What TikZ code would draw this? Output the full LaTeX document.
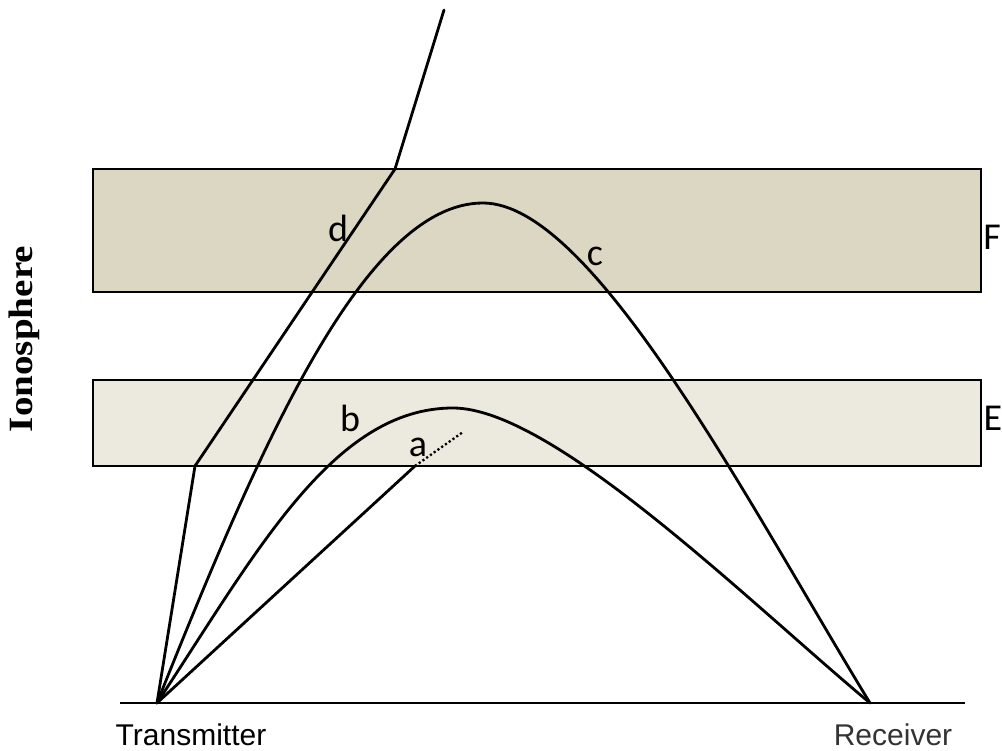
\documentclass[tikz,border=0pt]{standalone}
\usepackage{fontspec}
\setmainfont{Liberation Sans}
\newfontfamily\labfont{Carlito}
\newfontfamily\serffont{Liberation Serif}
\definecolor{Fcol}{HTML}{DCD7C2}
\definecolor{Ecol}{HTML}{ECE9DF}
\begin{document}
\begin{tikzpicture}[x=1pt,y=-1pt,
  ray/.style={line width=2.8pt, line join=round, line cap=round},
  layer/.style={draw=black, line width=2pt},
  lab/.style={font=\labfont\fontsize{38}{38}\selectfont, inner sep=0pt},
  place/.style={font=\fontsize{30}{30}\selectfont, inner sep=0pt}]
\useasboundingbox (0,0) rectangle (1002,751);
\fill[white] (0,0) rectangle (1002,751);
% layers
\draw[layer, fill=Fcol] (93,169) rectangle (981,292);
\draw[layer, fill=Ecol] (93,380) rectangle (981,466);
% ground
\coordinate (G1) at (120,703);
\coordinate (G2) at (965,703);
\draw[line width=2pt] (G1) -- (G2);
\coordinate (T) at (157,703);
\coordinate (R) at (870,703);
% ray d
\coordinate (dE) at (195,466);
\coordinate (dF) at (395,169);
\coordinate (dTop) at (444,10);
\draw[ray] (T) -- (dE) -- (dF) -- (dTop);
% ray c
\coordinate (cP) at (483,203);
\draw[ray] (T) .. controls (257,453) and (363,203) .. (cP)
               .. controls (593,203) and (748,503) .. (R);
% ray b
\coordinate (bP) at (453,408);
\draw[ray] (T) .. controls (256,553) and (333,408) .. (bP)
               .. controls (553,408) and (750,603) .. (R);
% ray a
\coordinate (aE) at (415,466);
\coordinate (aEnd) at (463,432);
\draw[ray] (T) -- (aE);
\draw[line width=2.3pt, dash pattern=on 2.2pt off 2.4pt] (aE) -- (aEnd);
% labels
\node[lab] (ld) at (338,228) {d};
\node[lab] (lc) at (595,256) {c};
\node[lab] (lb) at (350,418) {b};
\node[lab] (la) at (418,447) {a};
\node[lab] (lF) at (992,237) {F};
\node[lab] (lE) at (993,418) {E};
\node[place] (tx) at (191,735) {Transmitter};
\node[place, text=black!80] (rx) at (893,735) {Receiver};
\node[rotate=90, inner sep=0pt] (iono) at (24,339) {\scalebox{1.15}[1]{\serffont\bfseries\fontsize{34}{34}\selectfont Ionosphere}};
\end{tikzpicture}
\end{document}
